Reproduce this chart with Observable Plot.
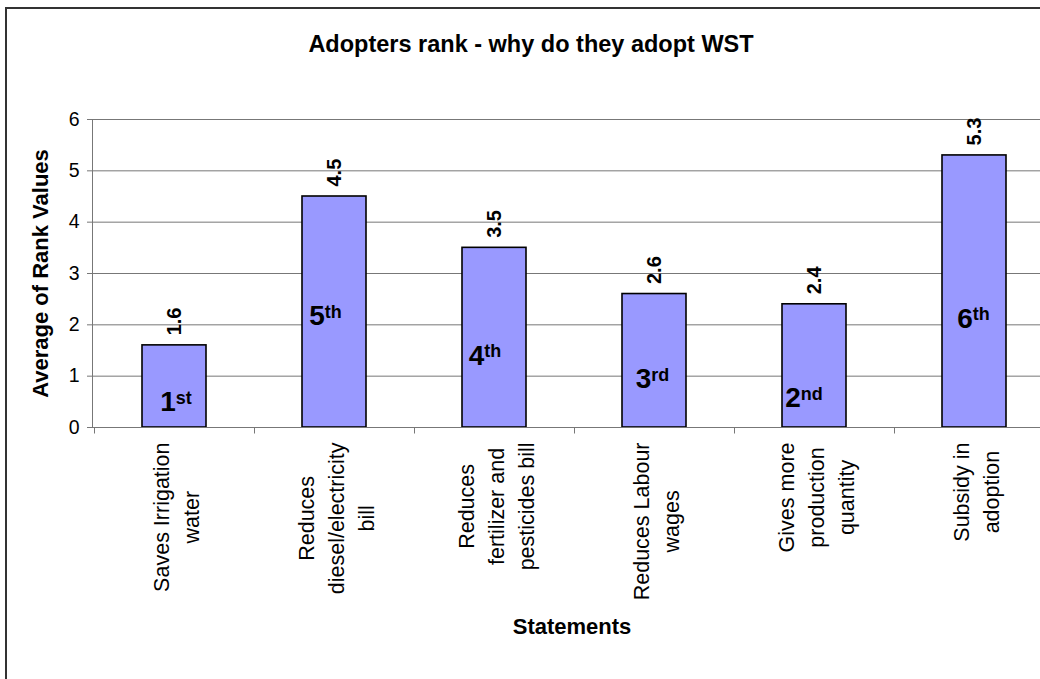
<!DOCTYPE html>
<html><head><meta charset="utf-8">
<script src="https://cdn.jsdelivr.net/npm/d3@7"></script>
<script src="https://cdn.jsdelivr.net/npm/@observablehq/plot@0.6"></script>
<style>
html,body{margin:0;padding:0;overflow:hidden;background:#fff;width:1040px;height:679px;position:relative}
#frameL{position:absolute;left:5px;top:7px;width:2px;height:700px;background:#333}
#frameT{position:absolute;left:5px;top:7px;width:1035px;height:2px;background:#333}
#chart{position:absolute;left:0;top:0;width:1040px;height:679px;overflow:hidden}
#chart svg{max-width:none !important}
#title{position:absolute;left:0;width:1062px;top:33px;text-align:center;font:bold 23.5px 'Liberation Sans',Arial,sans-serif;line-height:23.5px;color:#000;white-space:nowrap}
#xtitle{position:absolute;left:0;width:1144px;top:616px;text-align:center;font:bold 22px 'Liberation Sans',Arial,sans-serif;line-height:22px;color:#000;white-space:nowrap}
</style></head><body>
<div id="chart"></div>
<div id="frameL"></div>
<div id="frameT"></div>
<div id="title">Adopters rank - why do they adopt WST</div>
<div id="xtitle">Statements</div>
<script>
// ---- data ----
const categories = [
  "Saves Irrigation\nwater",
  "Reduces\ndiesel/electricity\nbill",
  "Reduces\nfertilizer and\npesticides bill",
  "Reduces Labour\nwages",
  "Gives more\nproduction\nquantity",
  "Subsidy in\nadoption"
];
const averageRank = [1.6, 4.5, 3.5, 2.6, 2.4, 5.3];
const rankNumber = ["1", "5", "4", "3", "2", "6"];
const rankSuffix = ["st", "th", "th", "rd", "nd", "th"];
const yTicks = [0, 1, 2, 3, 4, 5, 6];
const yLabel = "Average of Rank Values";

// ---- layout (not data) ----
const rankLabelY = [0.50, 2.17, 1.40, 0.935, 0.565, 2.12];
const rankLabelDx = [1.5, -9, -9.5, -2, -10.5, -1];

const W = 1070, H = 679, ML = 92, MR = 15, MT = 119, MB = 252;
const FONT = "Liberation Sans";
const xLabelSize = 21.5, digitSize = 28, suffixSize = 18;

const rows = categories.map((c, i) => ({c, v: averageRank[i], n: rankNumber[i], s: rankSuffix[i], i}));

const ctx = document.createElement("canvas").getContext("2d");
function measure(t, size, weight) {
  ctx.font = `${weight || "normal"} ${size}px "${FONT}"`;
  return ctx.measureText(t).width;
}

function axisDecor(index, scales, values, dims) {
  const xs = scales.x, ys = scales.y;
  const step = typeof xs.step === "function" ? xs.step() : scales.scales.x.step;
  const bw = typeof xs.bandwidth === "function" ? xs.bandwidth() : scales.scales.x.bandwidth;
  const g = d3.create("svg:g").attr("stroke", "#777").attr("stroke-width", 1);
  const y0 = Math.round(ys(0)) + 0.5;
  const yTop = Math.round(ys(6)) + 0.5;
  const xl = dims.marginLeft + 0.5;
  g.append("line").attr("x1", xl).attr("x2", xl).attr("y1", yTop).attr("y2", y0);
  g.append("line").attr("x1", xl).attr("x2", dims.width - dims.marginRight).attr("y1", y0).attr("y2", y0);
  const bounds = categories.map(c => xs(c) - (step - bw) / 2);
  bounds.push(xs(categories[categories.length - 1]) + bw + (step - bw) / 2);
  for (const b of bounds) {
    const bx = Math.round(b) + 0.5;
    g.append("line").attr("x1", bx).attr("x2", bx).attr("y1", y0).attr("y2", y0 + 6);
  }
  return g.node();
}

const xLabelMarks = categories.map(c => {
  const maxLen = d3.max(c.split("\n"), l => measure(l, xLabelSize));
  return Plot.text([c], {
    x: d => d, y: () => 0, text: d => d,
    rotate: -90, textAnchor: "middle", lineAnchor: "middle",
    lineHeight: 30 / xLabelSize, fontSize: xLabelSize,
    dy: 15 + maxLen / 2, fill: "#000"
  });
});

const rankMarks = rows.flatMap((r, i) => {
  const dW = measure(r.n, digitSize, "bold");
  const sW = measure(r.s, suffixSize, "bold");
  const left = rankLabelDx[i] - (dW + sW) / 2;
  return [
    Plot.text([r], {x: "c", y: () => rankLabelY[i], text: "n", textAnchor: "start", lineAnchor: "middle",
      dx: left, fontSize: digitSize, fontWeight: "bold", fill: "#000"}),
    Plot.text([r], {x: "c", y: () => rankLabelY[i], text: "s", textAnchor: "start", lineAnchor: "top",
      dx: left + dW, dy: -11, fontSize: suffixSize, fontWeight: "bold", fill: "#000"})
  ];
});

const chart = Plot.plot({
  width: W, height: H,
  marginLeft: ML, marginRight: MR, marginTop: MT, marginBottom: MB,
  style: {fontFamily: FONT, fontSize: "19px", color: "#000", background: "transparent", overflow: "visible", maxWidth: "none"},
  x: {domain: categories, paddingInner: 0.6, paddingOuter: 0.3, axis: null},
  y: {domain: [0, 6], axis: null},
  marks: [
    Plot.ruleY(yTicks, {stroke: "#777", strokeWidth: 1}),
    Plot.barY(rows, {x: "c", y: "v", fill: "#9999ff", stroke: "#000", strokeWidth: 1.6}),
    axisDecor,
    Plot.axisY({ticks: yTicks, tickSize: 5, tickPadding: 8, fontSize: 19.5, stroke: "#777", fill: "#000", label: null, tickFormat: d => String(d)}),
    Plot.text(rows, {x: "c", y: "v", text: d => d.v.toFixed(1), rotate: -90, textAnchor: "start", lineAnchor: "middle",
      dy: -10, fontSize: 20, fontWeight: "bold", fill: "#000"}),
    ...rankMarks,
    ...xLabelMarks,
    Plot.text([yLabel], {frameAnchor: "left", text: d => d, rotate: -90, textAnchor: "middle", lineAnchor: "middle",
      dx: -52, fontSize: 22, fontWeight: "bold", fill: "#000"})
  ]
});
document.getElementById("chart").appendChild(chart);
</script>
</body></html>
